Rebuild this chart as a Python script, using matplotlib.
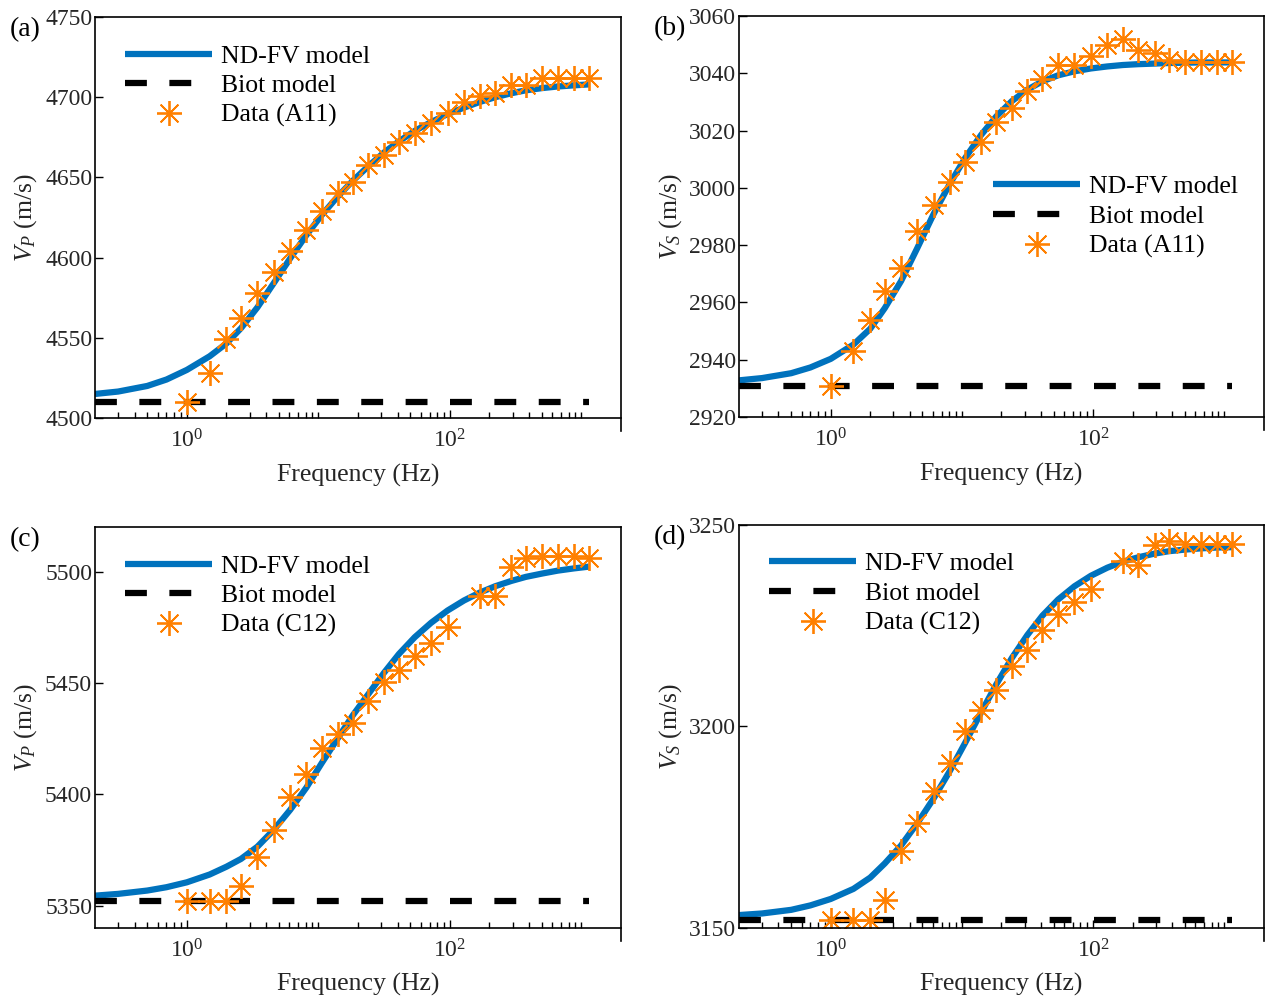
import numpy as np
import matplotlib
matplotlib.use('Agg')
import matplotlib.pyplot as plt
from matplotlib.lines import Line2D

plt.rcParams['font.family'] = ['Liberation Serif', 'DejaVu Serif']
plt.rcParams['mathtext.fontset'] = 'custom'
plt.rcParams['mathtext.rm'] = 'Liberation Serif'
plt.rcParams['mathtext.it'] = 'Liberation Serif:italic'

# frequencies of the measured points (Hz)
freq_data = [1, 1.49, 2.0, 2.58, 3.44, 4.57, 6.1, 8.1, 10.6, 14, 18.3, 24, 31.5,
             41, 54, 72, 96, 128, 168, 221, 294, 378, 503, 660, 875, 1140]
# C12 has no point at 128 Hz
freq_data_c12 = [f for f in freq_data if f != 128]

# frequencies where the model curve was read
freq_model = [0.2, 0.3, 0.5, 0.7, 1, 1.49, 2.0, 2.58, 3.44, 4.57, 6.1, 8.1, 10.6,
              14, 18.3, 24, 31.5, 41, 54, 72, 96, 128, 168, 221, 294, 378, 503,
              660, 875, 1140]

# (a) Vp, A11
vp_a11_data = [4510, 4528, 4549, 4562.5, 4578, 4591, 4604, 4617, 4629, 4640, 4647,
               4657.5, 4664, 4672, 4678, 4684, 4690, 4697, 4701, 4702.5, 4707.5,
               4707.5, 4712, 4712, 4712, 4712]
vp_a11_model = [4515, 4516.5, 4520, 4524, 4530, 4538.5, 4546.5, 4556, 4569, 4584,
                4599.5, 4614, 4626.5, 4638, 4648, 4657, 4665.5, 4672.5, 4679, 4684.5,
                4689.5, 4693.5, 4697, 4700, 4702.5, 4704.3, 4705.7, 4706.7, 4707.4,
                4708]
vp_a11_biot = 4510

# (b) Vs, A11
vs_a11_data = [2931, 2943, 2954, 2964, 2972, 2985, 2994, 3002, 3009, 3016, 3023,
               3028, 3034, 3038, 3043, 3043, 3046, 3050, 3052, 3048, 3047, 3044.5,
               3044, 3044, 3044, 3044]
vs_a11_model = [2932.8, 2933.6, 2935.3, 2937.3, 2940.3, 2945.3, 2950.8, 2958, 2967.5,
                2979, 2991, 3001.5, 3010.5, 3018.5, 3025, 3030.3, 3034.3, 3037.2,
                3039.3, 3040.7, 3041.7, 3042.4, 3042.9, 3043.2, 3043.4, 3043.6,
                3043.7, 3043.8, 3043.8, 3043.8]
vs_a11_biot = 2931

# (c) Vp, C12
vp_c12_data = [5352, 5352, 5352, 5359, 5372, 5384, 5399, 5409, 5421, 5427, 5432,
               5442, 5450.5, 5456, 5462, 5468, 5475, 5489, 5489, 5502, 5506,
               5507, 5507, 5507, 5506]
vp_c12_model = [5354.5, 5355.3, 5356.8, 5358.3, 5360.5, 5364, 5367.5, 5371, 5376.5,
                5384, 5393, 5403, 5414, 5425, 5435.5, 5445, 5454.5, 5463, 5470.5,
                5477, 5482.5, 5487, 5490.5, 5493.4, 5495.8, 5497.6, 5499.1, 5500.4,
                5501.4, 5502.2]
vp_c12_biot = 5352

# (d) Vs, C12
vs_c12_data = [3152, 3152, 3152, 3157, 3169, 3176, 3184, 3191, 3199, 3204, 3209,
               3215, 3219, 3224, 3228, 3231, 3234, 3241, 3240, 3245, 3246, 3245.2,
               3245.2, 3245.2, 3245.2]
vs_c12_model = [3153.2, 3153.6, 3154.5, 3155.6, 3157.2, 3159.7, 3162.5, 3166, 3170.5,
                3176, 3182.2, 3189, 3196, 3203.5, 3210.5, 3217, 3222.7, 3227.5,
                3231.5, 3234.8, 3237.4, 3239.4, 3240.9, 3242, 3242.9, 3243.5,
                3243.9, 3244.2, 3244.4, 3244.5]
vs_c12_biot = 3152

panels = [
    # label, rect, freq data, data, model, biot, ylim, yticks, ylabel, sample, legend anchor
    ('(a)', [0.0750, 0.5803, 0.4155, 0.4026], freq_data, vp_a11_data, vp_a11_model,
     vp_a11_biot, (4500, 4750), [4500, 4550, 4600, 4650, 4700, 4750],
     r'$V_P$ (m/s)', 'Data (A11)', (0.057, 0.931)),
    ('(b)', [0.5837, 0.5813, 0.4147, 0.4026], freq_data, vs_a11_data, vs_a11_model,
     vs_a11_biot, (2920, 3060), [2920, 2940, 2960, 2980, 3000, 3020, 3040, 3060],
     r'$V_S$ (m/s)', 'Data (A11)', (0.484, 0.603)),
    ('(c)', [0.0750, 0.0683, 0.4155, 0.4026], freq_data_c12, vp_c12_data, vp_c12_model,
     vp_c12_biot, (5340, 5520), [5350, 5400, 5450, 5500],
     r'$V_P$ (m/s)', 'Data (C12)', (0.057, 0.931)),
    ('(d)', [0.5837, 0.0683, 0.4147, 0.4046], freq_data_c12, vs_c12_data, vs_c12_model,
     vs_c12_biot, (3150, 3250), [3150, 3200, 3250],
     r'$V_S$ (m/s)', 'Data (C12)', (0.057, 0.932)),
]

blue = '#0072BD'
orange = '#FF8000'

fig = plt.figure(figsize=(12.66, 9.96), dpi=100)

minor = []
for e in range(-1, 4):
    for m in range(1, 10):
        minor.append(m * 10.0 ** e)

for lab, rect, fd, yd, ym, biot, ylim, yticks, ylabel, dlabel, anchor in panels:
    ax = fig.add_axes(rect)
    ax.plot(freq_model, ym, color=blue, lw=4.5, solid_capstyle='butt',
            solid_joinstyle='round', label='ND-FV model')
    ax.plot([freq_model[0], freq_model[-1]], [biot, biot], color='black', lw=4.5,
            dashes=(3.5, 3.6), dash_capstyle='butt', label='Biot model')
    ax.plot(fd, yd, linestyle='none', marker=(8, 2, 0), markersize=18,
            markeredgewidth=1.3, color=orange, label=dlabel)
    ax.set_xscale('log')
    ax.set_xlim(0.2, 2000)
    ax.set_ylim(*ylim)
    ax.set_xticks([1, 100])
    ax.set_xticklabels([r'$10^0$', r'$10^2$'])
    ax.set_xticks([m for m in minor if 0.2 < m < 2000 and m not in (1, 100)], minor=True)
    ax.set_xticklabels([], minor=True)
    ax.set_yticks(yticks)
    ax.tick_params(axis='both', which='both', direction='in', top=False, right=False,
                   labelcolor='#262626')
    ax.tick_params(axis='both', which='major', labelsize=17, length=6, width=1)
    ax.tick_params(axis='x', which='minor', length=4, width=1)
    ax.tick_params(axis='y', which='major', pad=2)
    ax.tick_params(axis='x', which='major', pad=8)
    ax.set_xlabel('Frequency (Hz)', fontsize=18.5, labelpad=8, color='#262626')
    ax.set_ylabel(ylabel, fontsize=18.5, labelpad=4, color='#262626')
    for s in ax.spines.values():
        s.set_linewidth(1.2)
    ax.spines['right'].set_visible(False)
    ax.add_line(Line2D([1, 1], [-0.033, 1], transform=ax.transAxes, color='black',
                       lw=1.2, clip_on=False))
    ax.legend(loc='upper left', bbox_to_anchor=anchor, frameon=False, fontsize=18.5,
              handlelength=3.4, handletextpad=0.35, labelspacing=0.26,
              borderaxespad=0, borderpad=0)
    x0 = rect[0] - 0.067
    fig.text(x0, rect[1] + rect[3] - 0.013, lab, fontsize=20, ha='left', va='center')

fig.savefig('out.png', dpi=100)
